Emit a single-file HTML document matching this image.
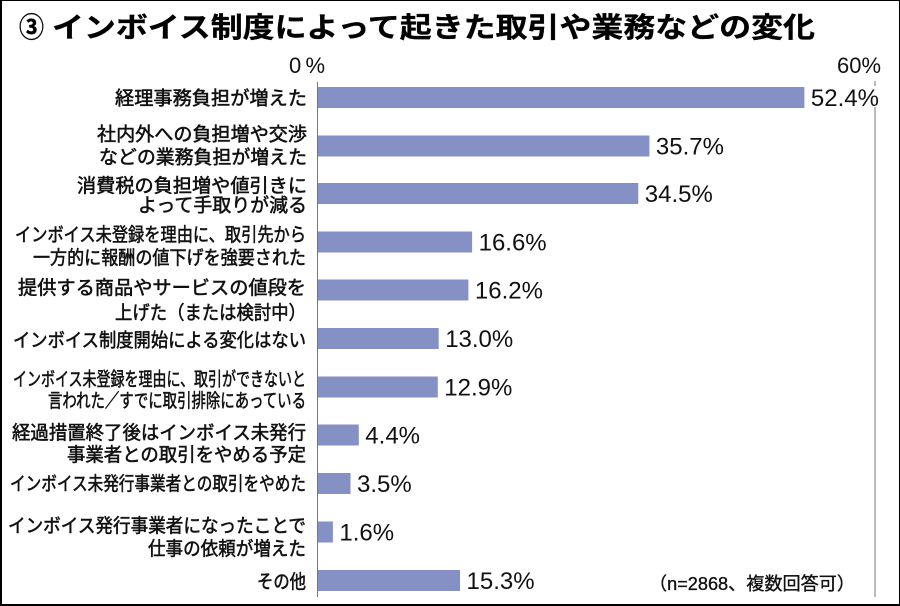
<!DOCTYPE html>
<html lang="ja">
<head>
<meta charset="utf-8">
<style>
  html,body{margin:0;padding:0;background:#fff;}
  body{width:900px;height:606px;overflow:hidden;}
  svg{display:block;}
  .lbl{font-family:"Liberation Sans","Noto Sans CJK JP",sans-serif;font-size:19px;fill:#111;stroke:#111;stroke-width:0.55px;}
  .val{font-family:"Liberation Sans","Noto Sans CJK JP",sans-serif;font-size:24px;fill:#111;}
  .ax{font-family:"Liberation Sans","Noto Sans CJK JP",sans-serif;font-size:22px;fill:#111;}
  .ttl{font-family:"Liberation Sans","Noto Sans CJK JP",sans-serif;font-size:28px;font-weight:bold;fill:#000;stroke:#000;stroke-width:0.3px;}
  .note{font-family:"Liberation Sans","Noto Sans CJK JP",sans-serif;font-size:18px;fill:#111;stroke:#111;stroke-width:0.35px;}
</style>
</head>
<body>
<svg width="900" height="606" viewBox="0 0 900 606" xmlns="http://www.w3.org/2000/svg">
  <rect x="0" y="0" width="900" height="606" fill="#fff"/>
  <!-- border -->
  <rect x="0" y="0" width="900" height="1" fill="#000"/>
  <rect x="0" y="0" width="2" height="606" fill="#000"/>
  <rect x="899" y="0" width="1" height="606" fill="#000"/>
  <rect x="0" y="604" width="900" height="2" fill="#000"/>

  <!-- title -->
  <text class="ttl" x="19" y="37" textLength="25" lengthAdjust="spacingAndGlyphs">③</text>
  <text class="ttl" x="52" y="37" textLength="763" lengthAdjust="spacingAndGlyphs">インボイス制度によって起きた取引や業務などの変化</text>

  <!-- axis labels -->
  <text class="ax" x="289" y="73" textLength="36" lengthAdjust="spacing">0%</text>
  <text class="ax" x="837" y="73" textLength="44" lengthAdjust="spacingAndGlyphs">60%</text>

  <!-- axis lines -->
  <rect x="317" y="82" width="1" height="515" fill="#777"/>
  <rect x="874.5" y="81" width="1" height="5" fill="#777"/>
  <rect x="874.5" y="107" width="1" height="490" fill="#777"/>

  <!-- bars -->
  <g fill="#8591c4">
    <rect x="318" y="87" width="486.4" height="21"/>
    <rect x="318" y="135.5" width="331.4" height="21"/>
    <rect x="318" y="183" width="320.3" height="21"/>
    <rect x="318" y="231.5" width="154.1" height="21"/>
    <rect x="318" y="279.5" width="150.4" height="21"/>
    <rect x="318" y="328" width="120.7" height="21"/>
    <rect x="318" y="376.5" width="119.8" height="21"/>
    <rect x="318" y="424.5" width="40.8" height="21"/>
    <rect x="318" y="473" width="32.5" height="21"/>
    <rect x="318" y="521.5" width="14.9" height="21"/>
    <rect x="318" y="570" width="142" height="21"/>
  </g>

  <!-- values -->
  <text class="val" x="810.9" y="106">52.4%</text>
  <text class="val" x="655.9" y="154.5">35.7%</text>
  <text class="val" x="644.8" y="202">34.5%</text>
  <text class="val" x="478.6" y="250.5">16.6%</text>
  <text class="val" x="474.9" y="298.5">16.2%</text>
  <text class="val" x="445.2" y="347">13.0%</text>
  <text class="val" x="444.3" y="395.5">12.9%</text>
  <text class="val" x="365.3" y="443.5">4.4%</text>
  <text class="val" x="357" y="492">3.5%</text>
  <text class="val" x="339.4" y="540.5">1.6%</text>
  <text class="val" x="466.5" y="589">15.3%</text>

  <!-- category labels -->
  <text class="lbl" x="115" y="104.5" textLength="192" lengthAdjust="spacingAndGlyphs">経理事務負担が増えた</text>
  <text class="lbl" x="97" y="140.5" textLength="210" lengthAdjust="spacingAndGlyphs">社内外への負担増や交渉</text>
  <text class="lbl" x="99" y="163.5" textLength="208" lengthAdjust="spacingAndGlyphs">などの業務負担が増えた</text>
  <text class="lbl" x="77" y="192" textLength="230" lengthAdjust="spacingAndGlyphs">消費税の負担増や値引きに</text>
  <text class="lbl" x="138" y="211.5" textLength="169" lengthAdjust="spacingAndGlyphs">よって手取りが減る</text>
  <text class="lbl" x="15" y="241" textLength="291" lengthAdjust="spacingAndGlyphs">インボイス未登録を理由に、取引先から</text>
  <text class="lbl" x="33" y="264" textLength="273" lengthAdjust="spacingAndGlyphs">一方的に報酬の値下げを強要された</text>
  <text class="lbl" x="18" y="294" textLength="288" lengthAdjust="spacingAndGlyphs">提供する商品やサービスの値段を</text>
  <text class="lbl" x="115" y="319" textLength="191" lengthAdjust="spacingAndGlyphs">上げた（または検討中）</text>
  <text class="lbl" x="13" y="346.5" textLength="293" lengthAdjust="spacingAndGlyphs">インボイス制度開始による変化はない</text>
  <text class="lbl" x="13" y="385.5" textLength="293" lengthAdjust="spacingAndGlyphs">インボイス未登録を理由に、取引ができないと</text>
  <text class="lbl" x="48" y="407" textLength="258" lengthAdjust="spacingAndGlyphs">言われた／すでに取引排除にあっている</text>
  <text class="lbl" x="12" y="439" textLength="294" lengthAdjust="spacingAndGlyphs">経過措置終了後はインボイス未発行</text>
  <text class="lbl" x="67" y="461" textLength="239" lengthAdjust="spacingAndGlyphs">事業者との取引をやめる予定</text>
  <text class="lbl" x="10" y="490" textLength="296" lengthAdjust="spacingAndGlyphs">インボイス未発行事業者との取引をやめた</text>
  <text class="lbl" x="8" y="532" textLength="298" lengthAdjust="spacingAndGlyphs">インボイス発行事業者になったことで</text>
  <text class="lbl" x="148" y="555" textLength="158" lengthAdjust="spacingAndGlyphs">仕事の依頼が増えた</text>
  <text class="lbl" x="257" y="588" textLength="49" lengthAdjust="spacingAndGlyphs">その他</text>

  <!-- footnote -->
  <text class="note" x="649" y="590" textLength="206" lengthAdjust="spacingAndGlyphs">（n=2868、複数回答可）</text>
</svg>
</body>
</html>
